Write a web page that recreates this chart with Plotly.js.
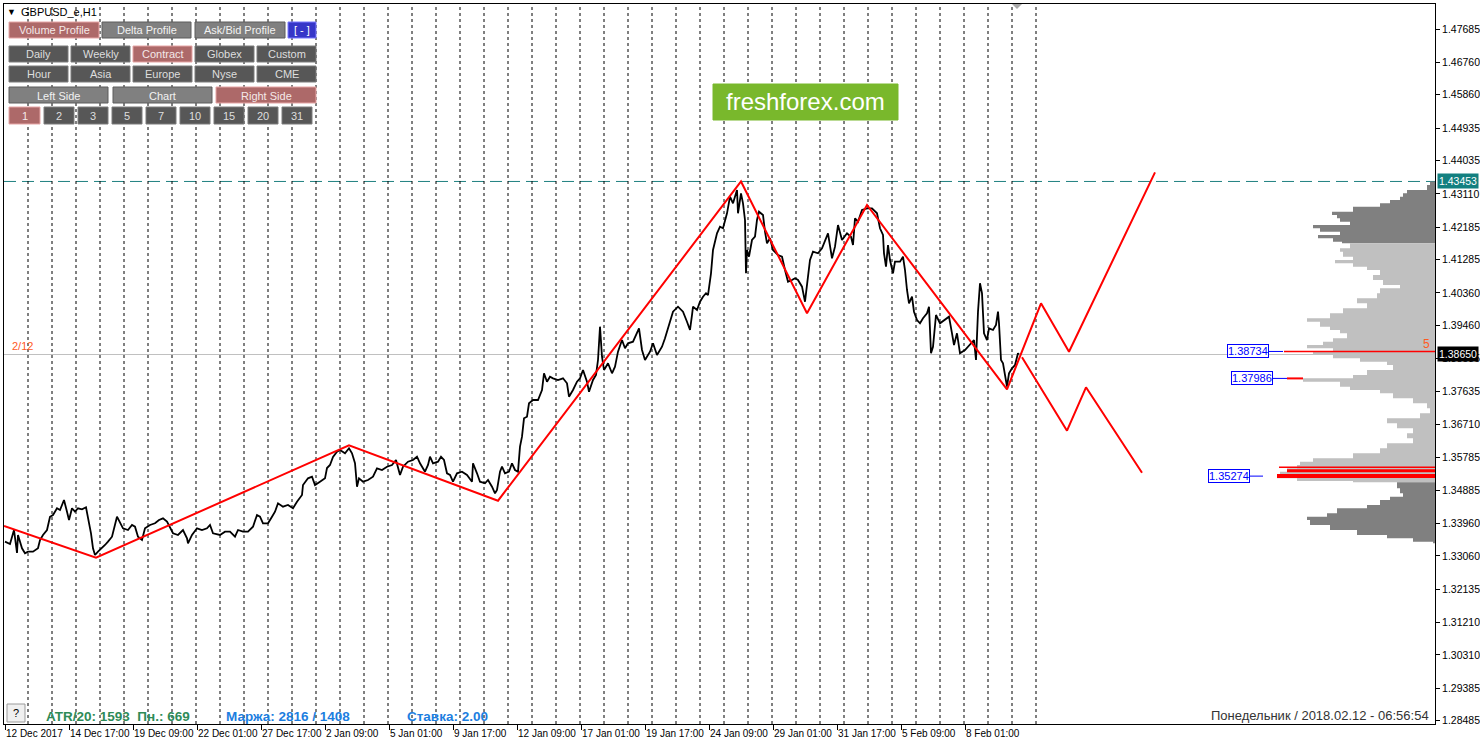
<!DOCTYPE html>
<html><head><meta charset="utf-8">
<script src="https://cdn.plot.ly/plotly-3.0.1.min.js"></script>
<style>html,body{margin:0;padding:0;background:#fff;}#chart{width:1480px;height:747px;}</style>
</head><body><div id="chart"></div>
<script>
// ---------------- DATA ----------------
const timeTickBars = [1,65,129,193,257,321,385,449,513,577,641,705,769,833,897,961];
const timeTickLabels = ["12 Dec 2017","14 Dec 17:00","19 Dec 09:00","22 Dec 01:00","27 Dec 17:00","2 Jan 09:00","5 Jan 01:00","9 Jan 17:00","12 Jan 09:00","17 Jan 01:00","19 Jan 17:00","24 Jan 09:00","29 Jan 01:00","31 Jan 17:00","5 Feb 09:00","8 Feb 01:00"];
const priceTicks = [1.47685,1.46760,1.45860,1.44935,1.44035,1.43110,1.42185,1.41285,1.40360,1.39460,1.38535,1.37635,1.36710,1.35785,1.34885,1.33960,1.33060,1.32135,1.31210,1.30310,1.29385,1.28485];
const daySeparatorBars = [24,48,72,96,120,144,168,192,216,240,264,288,312,336,360,384,408,432,456,480,504,528,552,576,600,624,648,672,696,720,744,768,792,816,840,864,888,912,936,960,984,1008,1032];

const closeBars = [1,6,10,11,13,14,18,21,24,29,34,36,39,43,46,49,53,56,60,63,65,68,71,74,78,82,84,87,89,91,94,98,101,104,108,113,116,119,124,128,131,134,138,141,146,151,155,159,163,166,169,174,179,183,184,188,193,198,203,206,209,216,221,226,231,234,239,244,249,253,256,259,264,268,271,274,279,284,289,293,298,299,304,308,311,316,321,323,326,329,333,336,341,345,348,351,353,355,359,364,369,373,378,383,388,392,396,399,404,409,413,416,421,424,426,429,434,437,440,443,446,449,453,458,463,468,469,473,476,481,484,488,491,493,496,498,501,505,508,511,514,516,518,520,523,525,529,534,538,540,543,546,549,554,559,563,565,569,573,576,579,583,585,589,592,594,596,598,600,602,604,608,611,614,618,621,624,629,633,635,638,641,646,649,653,658,661,666,669,674,679,683,686,688,689,693,696,699,702,704,707,709,713,716,719,723,726,729,733,734,737,739,741,742,743,745,748,751,753,755,759,761,763,766,769,774,778,781,784,788,791,794,798,801,803,806,809,814,818,821,824,828,831,834,838,843,847,849,851,854,858,863,868,873,876,879,880,882,884,886,889,891,896,899,901,903,905,908,910,913,916,919,923,925,927,929,932,936,941,945,948,950,953,956,961,966,970,972,974,976,978,980,983,985,989,992,994,995,997,999,1001,1003,1005,1008,1011,1014,1015];
const closePrices = [1.33454,1.33390,1.33778,1.33548,1.33140,1.33640,1.33270,1.33132,1.33176,1.33176,1.33270,1.33501,1.33640,1.33778,1.34147,1.34195,1.34381,1.34333,1.34611,1.34286,1.34056,1.34381,1.34286,1.34381,1.34353,1.34408,1.34147,1.33687,1.33270,1.33084,1.33176,1.33270,1.33362,1.33454,1.33592,1.34147,1.33964,1.33825,1.33778,1.33917,1.33870,1.33592,1.33501,1.33825,1.33917,1.33964,1.34056,1.34103,1.34009,1.33825,1.33687,1.33640,1.33778,1.33548,1.33409,1.33640,1.33825,1.33778,1.33825,1.33917,1.33687,1.33640,1.33731,1.33731,1.33592,1.33778,1.33731,1.33731,1.33870,1.34195,1.34147,1.33964,1.33964,1.34147,1.34286,1.34519,1.34425,1.34472,1.34381,1.34564,1.34750,1.35027,1.35213,1.35258,1.35027,1.35119,1.35213,1.35499,1.35583,1.35805,1.35952,1.35999,1.35907,1.36046,1.35907,1.35630,1.34980,1.35213,1.35119,1.35166,1.35258,1.35491,1.35444,1.35535,1.35583,1.35721,1.35305,1.35535,1.35674,1.35721,1.35813,1.35630,1.35397,1.35583,1.35813,1.35630,1.35674,1.35813,1.35721,1.35352,1.35305,1.35119,1.35352,1.35397,1.35305,1.35119,1.35630,1.35352,1.35119,1.35075,1.35166,1.34980,1.34797,1.34889,1.35397,1.35535,1.35352,1.35397,1.35630,1.35444,1.35397,1.36091,1.36368,1.36879,1.36923,1.37295,1.37387,1.37387,1.37664,1.38128,1.37895,1.38034,1.37989,1.37942,1.37989,1.37850,1.37478,1.37664,1.37895,1.37989,1.38220,1.37895,1.37617,1.37942,1.38081,1.38497,1.39422,1.38589,1.38220,1.38311,1.38406,1.38128,1.38311,1.38728,1.39052,1.38822,1.38961,1.39005,1.39238,1.39377,1.38775,1.38497,1.38728,1.38961,1.38636,1.38866,1.39100,1.39607,1.39838,1.39977,1.39838,1.39560,1.39330,1.39746,1.39977,1.39885,1.40115,1.40254,1.40349,1.40301,1.40904,1.41551,1.42014,1.42197,1.42153,1.42569,1.43030,1.42847,1.43216,1.42569,1.43124,1.42847,1.42383,1.40904,1.41551,1.41365,1.41828,1.41920,1.42383,1.42614,1.42522,1.42059,1.41737,1.41875,1.41551,1.41412,1.41365,1.40995,1.40671,1.40718,1.40765,1.40718,1.40532,1.40115,1.40626,1.41273,1.41503,1.41459,1.41598,1.41781,1.42014,1.41320,1.41642,1.42244,1.41828,1.42014,1.41920,1.41689,1.42430,1.42336,1.42661,1.42708,1.42708,1.42569,1.42153,1.41967,1.41459,1.41087,1.41689,1.41273,1.40904,1.41226,1.41226,1.41365,1.40995,1.40440,1.40071,1.40254,1.39838,1.39607,1.39516,1.39655,1.39793,1.39977,1.38683,1.38866,1.39746,1.39516,1.39607,1.39699,1.39238,1.38914,1.39238,1.38683,1.38775,1.38914,1.39052,1.38497,1.39838,1.40626,1.40349,1.39238,1.39052,1.39377,1.39330,1.39469,1.39838,1.39516,1.38497,1.38406,1.38034,1.37756,1.38128,1.38267,1.38358,1.38683,1.38650];

// ZigZag swings and projections
const zigzagBars   = [0,92,345,494,737,803,863,1003,1037,1065,1151];
const zigzagPrices = [1.33889,1.33009,1.36129,1.34592,1.43453,1.39793,1.42800,1.37684,1.40071,1.38727,1.43707];
const projDownBars   = [1018,1063,1082,1138];
const projDownPrices = [1.38572,1.36535,1.37739,1.35369];

// Volume profile (price level, volume in profile units)
const profileUpperPrices = [1.43453,1.43355,1.43216,1.43124,1.43031,1.42939,1.42846,1.42754,1.42615,1.42522,1.42430,1.42337,1.42245,1.42152,1.42060,1.41967,1.41875,1.41782,1.41736];
const profileUpperVols   = [5,8,28,32,35,45,55,82,103,98,95,85,122,115,95,117,102,93,0];
const profileValuePrices = [1.41736,1.41597,1.41504,1.41366,1.41273,1.41181,1.41088,1.40996,1.40857,1.40718,1.40579,1.40487,1.40348,1.40209,1.40070,1.39932,1.39793,1.39654,1.39561,1.39423,1.39330,1.39238,1.39099,1.39006,1.38914,1.38821,1.38729,1.38636,1.38544,1.38451,1.38358,1.38220,1.38081,1.37988,1.37896,1.37757,1.37665,1.37572,1.37433,1.37294,1.37156,1.37017,1.36878,1.36740,1.36601,1.36462,1.36323,1.36185,1.36046,1.35907,1.35768,1.35675,1.35583,1.35490,1.35398,1.35305,1.35213,1.35138,1.35107];
const profileValueVols   = [85,95,92,82,100,82,68,55,62,52,35,55,58,78,68,92,105,128,115,105,95,88,102,112,128,102,122,102,75,48,42,68,82,132,95,85,55,42,22,8,5,15,48,38,22,28,22,48,55,82,122,135,138,148,155,158,138,82,0];
const profileLowerPrices = [1.35107,1.34935,1.34796,1.34704,1.34611,1.34473,1.34380,1.34241,1.34149,1.34056,1.33917,1.33778,1.33640,1.33547,1.33454,1.33408];
const profileLowerVols   = [38,35,32,45,55,68,98,108,128,125,105,78,48,22,2,0];

// High-volume nodes (red) and their labels
const hvnPrices = [1.38734,1.37986,1.35518,1.35425,1.35274];
const hvnVols   = [151,148,156,148,158];
const hvnFrom   = [0,132,0,0,0];
const hvnLabelPrices = [1.38734,1.37986,1.35274];

const symbolTitle = "GBPUSD_e,H1";
const lastPrice = 1.38650;
const highLevel = 1.43453;

// ---------------- LAYOUT HELPERS ----------------
const L = 4, T = 4, W = 1431, H = 720;
const Y0 = 1.28393, Y1 = 1.48379;
const pxX = x => (x - L) / W;
const pxY = y => 1 - (y - T) / H;
const FONT = "Liberation Sans, Arial, sans-serif";
const shapes = [], annotations = [];

function rect(x0, y0, x1, y1, fill, line, layer) {
  shapes.push({type:'rect', xref:'paper', yref:'paper', x0:pxX(x0), x1:pxX(x1), y0:pxY(y1), y1:pxY(y0),
    fillcolor:fill, line:{color:line, width:1}, layer:layer || 'above'});
}
function label(x, y, t, size, color, anchor, bold) {
  annotations.push({xref:'paper', yref:'paper', x:pxX(x), y:pxY(y), text: bold ? '<b>'+t+'</b>' : t,
    showarrow:false, xanchor:anchor || 'center', yanchor:'middle',
    font:{family:FONT, size:size, color:color}});
}

// buttons
const buttonLabels = ["Volume Profile","Delta Profile","Ask/Bid Profile","[ - ]",
  "Daily","Weekly","Contract","Globex","Custom",
  "Hour","Asia","Europe","Nyse","CME",
  "Left Side","Chart","Right Side",
  "1","2","3","5","7","10","15","20","31"];
const buttonBoxes = [[9,22,99,38],[102,22,191,38],[195,22,285,38],[288,22,316,38],
  [9,46,68,62],[71,46,130,62],[133,46,192,62],[195,46,254,62],[257,46,316,62],
  [9,66,68,82],[71,66,130,82],[133,66,192,82],[195,66,254,82],[257,66,316,82],
  [9,87,108,103],[113,87,212,103],[216,87,316,103],
  [9,107,40,124],[44,107,74,124],[78,107,108,124],[112,107,142,124],[146,107,176,124],[180,107,210,124],[214,107,244,124],[248,107,278,124],[282,107,312,124]];
const buttonStyles = ['on','mid','mid','blue','dark','dark','on','dark','dark','dark','dark','dark','dark','dark','mid','mid','on','on','dark','dark','dark','dark','dark','dark','dark','dark'];
const styleMap = {
  on:  {fill:'#ad6969', line:'#e6a6a6', text:'#f4e8e8'},
  mid: {fill:'#808080', line:'#5c5c5c', text:'#f2f2f2'},
  dark:{fill:'#575757', line:'#7c7c7c', text:'#dedede'},
  blue:{fill:'#3636c8', line:'#7a7aff', text:'#ffffff'}
};
buttonLabels.forEach((t, i) => {
  const b = buttonBoxes[i], s = styleMap[buttonStyles[i]];
  rect(b[0], b[1], b[2], b[3], s.fill, s.line);
  label((b[0]+b[2])/2, (b[1]+b[3])/2 + 0.5, t, 11, s.text);
});

// title
label(11, 12, '▼', 9, '#000', 'center');
label(19, 12, symbolTitle, 11, '#000', 'left');

// watermark
rect(713, 84, 898, 120, '#79b82c', '#79b82c');
label(805.5, 102, 'freshforex.com', 24, '#ffffff');

// bottom bar
rect(7, 704, 25, 722, '#f0f0f0', '#9a9a9a');
label(16, 713, '?', 11, '#000');
label(44, 716, 'ATR/20: 1593&nbsp;&nbsp;Пн.: 669', 13.5, '#2e8b57', 'left', true);
label(224, 716, 'Маржа: 2816 / 1408', 13.5, '#1c7ee0', 'left', true);
label(405, 716, 'Ставка: 2.00', 13.5, '#1c7ee0', 'left', true);
label(1431, 715, 'Понедельник&nbsp;/&nbsp;2018.02.12 - 06:56:54', 13, '#333333', 'right');

// small indicators
label(10, 346, '2/12', 11, '#ff5a1f', 'left');
label(1426, 344, '5', 12, '#ff5a1f', 'center');

// chart-shift marker
shapes.push({type:'path', xref:'paper', yref:'paper', layer:'above',
  path:`M ${pxX(1012)} ${pxY(4)} L ${pxX(1022)} ${pxY(4)} L ${pxX(1017)} ${pxY(9)} Z`,
  fillcolor:'#a8a8a8', line:{width:0}});

// bid line and high level line
shapes.push({type:'line', xref:'paper', yref:'y', x0:0, x1:1, y0:lastPrice, y1:lastPrice,
  line:{color:'#c0c0c0', width:1}, layer:'below'});
shapes.push({type:'line', xref:'paper', yref:'y', x0:0, x1:1, y0:highLevel, y1:highLevel,
  line:{color:'#1f8080', width:1, dash:'12px,6px'}, layer:'below'});

// axis price flags
annotations.push({xref:'paper', yref:'y', x:pxX(1437), y:highLevel, xanchor:'left', yanchor:'middle',
  text:highLevel.toFixed(5), showarrow:false, bgcolor:'#138080', borderpad:1,
  font:{family:FONT, size:10.5, color:'#ffffff'}});
annotations.push({xref:'paper', yref:'y', x:pxX(1437), y:lastPrice, xanchor:'left', yanchor:'middle',
  text:lastPrice.toFixed(5), showarrow:false, bgcolor:'#000000', borderpad:1,
  font:{family:FONT, size:10.5, color:'#ffffff'}});

// HVN labels
const hvnLabelTips = [152, 148, 172];
const hvnLabelOffsets = [-35, -35, -34];
hvnLabelPrices.forEach((p, i) => {
  annotations.push({xref:'x2', yref:'y', x:hvnLabelTips[i], y:p, text:p.toFixed(5),
    showarrow:true, arrowhead:0, arrowwidth:1, arrowcolor:'#0000ff', ax:hvnLabelOffsets[i], ay:0,
    bordercolor:'#0000ff', borderwidth:1, borderpad:0, bgcolor:'#ffffff',
    font:{family:FONT, size:11, color:'#0000ff'}});
});

// ---------------- TRACES ----------------
const sepX = [], sepY = [];
daySeparatorBars.forEach(b => { sepX.push(b, b, null); sepY.push(Y0, Y1, null); });

const traces = [
  {x:sepX, y:sepY, mode:'lines', line:{color:'#000000', width:1, dash:'3px,3px'}, hoverinfo:'skip'},
  {x:profileUpperVols, y:profileUpperPrices, xaxis:'x2', mode:'lines', line:{width:0, shape:'vh'}, fill:'tozerox', fillcolor:'#808080'},
  {x:profileValueVols, y:profileValuePrices, xaxis:'x2', mode:'lines', line:{width:0, shape:'vh'}, fill:'tozerox', fillcolor:'#c0c0c0'},
  {x:profileLowerVols, y:profileLowerPrices, xaxis:'x2', mode:'lines', line:{width:0, shape:'vh'}, fill:'tozerox', fillcolor:'#808080'},
  {x:closeBars, y:closePrices, mode:'lines', line:{color:'#000000', width:1.8}},
  {x:zigzagBars, y:zigzagPrices, mode:'lines', line:{color:'#ff0000', width:2}},
  {x:projDownBars, y:projDownPrices, mode:'lines', line:{color:'#ff0000', width:2}}
];
const hvnWidths = [1.5, 2, 1.5, 3, 4];
hvnPrices.forEach((p, i) => {
  traces.push({x:[hvnFrom[i], hvnVols[i]], y:[p, p], xaxis:'x2', mode:'lines', line:{color:'#ff0000', width:hvnWidths[i]}});
});

const layout = {
  width:1480, height:747, showlegend:false,
  margin:{l:L, r:1480-L-W, t:T, b:747-T-H, pad:0},
  paper_bgcolor:'#ffffff', plot_bgcolor:'#ffffff',
  xaxis:{range:[0, W], tickvals:timeTickBars, ticktext:timeTickLabels, ticks:'outside', ticklen:5,
    tickcolor:'#000', showgrid:false, zeroline:false, showline:true, linecolor:'#000', linewidth:1, mirror:true,
    tickangle:0, ticklabelposition:'outside right', tickfont:{family:FONT, size:10, color:'#000'}, fixedrange:true},
  xaxis2:{overlaying:'x', range:[W, 0], visible:false, anchor:'y', fixedrange:true},
  yaxis:{side:'right', range:[Y0, Y1], tickvals:priceTicks, ticktext:priceTicks.map(v => v.toFixed(5)),
    ticks:'outside', ticklen:4, tickcolor:'#000', showgrid:false, zeroline:false, showline:true,
    linecolor:'#000', linewidth:1, mirror:true, tickfont:{family:FONT, size:10.5, color:'#000'}, fixedrange:true},
  shapes:shapes, annotations:annotations
};
Plotly.newPlot('chart', traces, layout, {displayModeBar:false, staticPlot:true});
</script></body></html>
